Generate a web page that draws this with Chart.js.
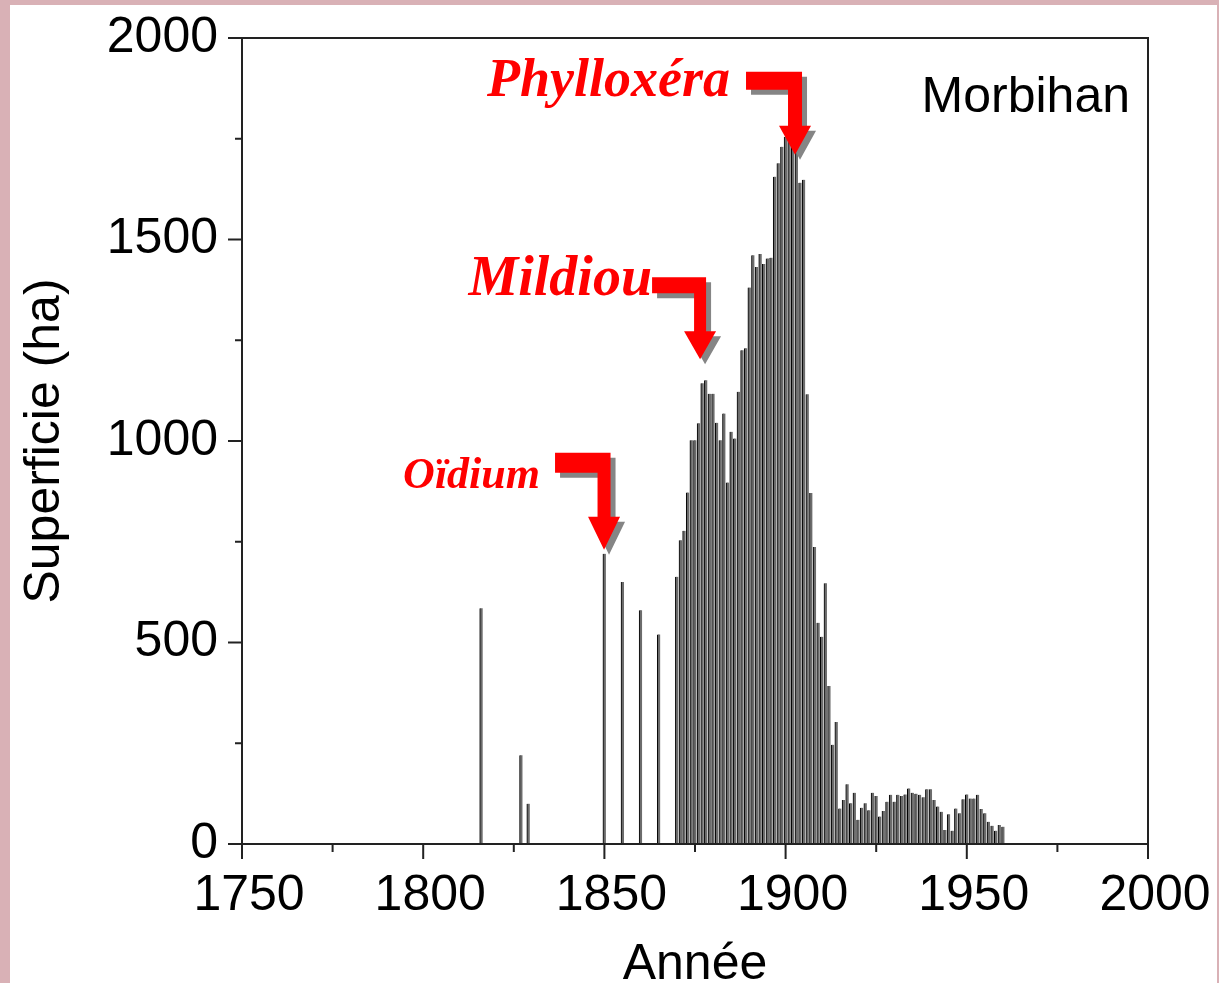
<!DOCTYPE html>
<html>
<head>
<meta charset="utf-8">
<script src="https://cdn.jsdelivr.net/npm/chart.js@4"></script>
<style>
  html, body { margin: 0; padding: 0; background: #d9b1b6; }
  canvas { display: block; }
</style>
</head>
<body>
<canvas id="chart" width="1219" height="983"></canvas>
<script>
// surface plantée en vigne, Morbihan (ha)
const years = [
  1816, 1827, 1829, 1850, 1855, 1860, 1865,
  1870, 1871, 1872, 1873, 1874, 1875, 1876, 1877, 1878, 1879,
  1880, 1881, 1882, 1883, 1884, 1885, 1886, 1887, 1888, 1889,
  1890, 1891, 1892, 1893, 1894, 1895, 1896, 1897, 1898, 1899,
  1900, 1901, 1902, 1903, 1904, 1905, 1906, 1907, 1908, 1909,
  1910, 1911, 1912, 1913, 1914, 1915, 1916, 1917, 1918, 1919,
  1920, 1921, 1922, 1923, 1924, 1925, 1926, 1927, 1928, 1929,
  1930, 1931, 1932, 1933, 1934, 1935, 1936, 1937, 1938, 1939,
  1940, 1941, 1942, 1943, 1944, 1945, 1946, 1947, 1948, 1949,
  1950, 1951, 1952, 1953, 1954, 1955, 1956, 1957, 1958, 1959,
  1960
];
const surfaces = [
  585, 220, 100, 720, 650, 580, 520,
  663, 754, 777, 872, 1002, 1002, 1044, 1143, 1151, 1117,
  1117, 1045, 1002, 1068, 897, 1023, 1006, 1122, 1225, 1230,
  1381, 1461, 1432, 1464, 1439, 1453, 1455, 1656, 1689, 1730,
  1755, 1770, 1775, 1760, 1641, 1648, 1116, 871, 737, 549,
  514, 647, 392, 246, 303, 88, 109, 148, 101, 127,
  60, 90, 101, 84, 127, 119, 68, 82, 105, 122,
  105, 122, 119, 123, 138, 127, 125, 122, 116, 136,
  136, 109, 93, 80, 35, 74, 33, 88, 76, 111,
  123, 113, 113, 122, 87, 76, 55, 45, 33, 47,
  43
];
const region = 'Morbihan';
const notes = ['Phylloxéra', 'Mildiou', 'Oïdium'];
const noteYears = [1902.6, 1876.4, 1849.9];
const noteValues = [1710, 1203, 730];

// arrow shapes, in pixels from the tip
const noteStyles = [
  {left: 49, top: 83, thick: 18, shaft: 7, head: 29, half: 16, size: 54, gap: 16, base: 59},
  {left: 48, top: 82, thick: 16, shaft: 6, head: 28, half: 16, size: 56, gap: 0, base: 64},
  {left: 49, top: 97, thick: 20, shaft: 6.5, head: 33, half: 16, size: 44, gap: 15, base: 62}
];

const sans = 'Liberation Sans, Arial, sans-serif';

function arrowPath(c, tx, ty, g) {
  c.beginPath();
  c.moveTo(tx - g.left, ty - g.top);
  c.lineTo(tx + g.shaft, ty - g.top);
  c.lineTo(tx + g.shaft, ty - g.head);
  c.lineTo(tx + g.half, ty - g.head);
  c.lineTo(tx, ty);
  c.lineTo(tx - g.half, ty - g.head);
  c.lineTo(tx - g.shaft, ty - g.head);
  c.lineTo(tx - g.shaft, ty - g.top + g.thick);
  c.lineTo(tx - g.left, ty - g.top + g.thick);
  c.closePath();
}

const frame = {
  id: 'frame',
  beforeDraw(chart) {
    const c = chart.ctx;
    c.save();
    c.fillStyle = '#d9b1b6';
    c.fillRect(0, 0, chart.width, chart.height);
    c.fillStyle = '#fff';
    c.fillRect(10, 5, chart.width - 12, chart.height - 5);
    c.restore();
  },
  afterDatasetsDraw(chart) {
    const {ctx: c, chartArea: a, scales: {x, y}} = chart;
    c.save();
    c.strokeStyle = '#222';
    c.lineWidth = 2;
    c.strokeRect(a.left, a.top, a.right - a.left, a.bottom - a.top);
    c.beginPath();
    for (let v = x.min; v <= x.max; v += 25) {
      const px = x.getPixelForValue(v);
      c.moveTo(px, a.bottom);
      c.lineTo(px, a.bottom + (v % 50 === 0 ? 15 : 8));
    }
    for (let v = y.min; v <= y.max; v += 250) {
      const py = y.getPixelForValue(v);
      c.moveTo(a.left, py);
      c.lineTo(a.left - (v % 500 === 0 ? 14 : 7), py);
    }
    c.stroke();

    c.fillStyle = '#000';
    c.font = '50px ' + sans;
    c.textAlign = 'right';
    c.textBaseline = 'alphabetic';
    c.fillText(region, a.right - 18, a.top + 74);

    notes.forEach((txt, i) => {
      const g = noteStyles[i];
      const tx = x.getPixelForValue(noteYears[i]);
      const ty = y.getPixelForValue(noteValues[i]);
      c.fillStyle = '#858585';
      arrowPath(c, tx + 5, ty + 5, g);
      c.fill();
      c.fillStyle = '#ff0000';
      arrowPath(c, tx, ty, g);
      c.fill();
      c.font = 'italic bold ' + g.size + 'px Liberation Serif, serif';
      c.textAlign = 'right';
      c.fillText(txt, tx - g.left - g.gap, ty - g.base);
    });
    c.restore();
  }
};

new Chart(document.getElementById('chart'), {
  type: 'bar',
  data: {
    datasets: [{
      data: years.map((yr, i) => ({x: yr, y: surfaces[i]})),
      backgroundColor: '#6c6c6c',
      borderColor: '#000',
      borderWidth: {left: 1, right: 0, top: 0, bottom: 0},
      borderSkipped: false,
      barThickness: 3
    }]
  },
  options: {
    responsive: false,
    animation: false,
    devicePixelRatio: 1,
    layout: {padding: {left: 0, top: 38, right: 71, bottom: 0}},
    plugins: {legend: {display: false}, tooltip: {enabled: false}},
    scales: {
      x: {
        type: 'linear',
        min: 1750,
        max: 2000,
        offset: false,
        grid: {display: false},
        border: {display: false},
        ticks: {stepSize: 50, color: '#000', font: {family: sans, size: 50}, padding: 14, labelOffset: 7,
          maxRotation: 0, autoSkip: false, callback: v => String(v)},
        title: {display: true, text: 'Année', color: '#000', font: {family: sans, size: 50, lineHeight: 0.7}, padding: 0},
        afterFit(s) { s.height = 983 - 844; s.paddingLeft = 0; s.paddingRight = 0; }
      },
      y: {
        min: 0,
        max: 2000,
        grid: {display: false},
        border: {display: false},
        ticks: {stepSize: 500, color: '#000', font: {family: sans, size: 50}, padding: 16,
          callback: v => String(v)},
        title: {display: true, text: 'Superficie (ha)', color: '#000', font: {family: sans, size: 50}, padding: {top: 15, bottom: 0}},
        afterFit(s) { s.width = 242; s.paddingTop = 0; s.paddingBottom = 0; }
      }
    }
  },
  plugins: [frame]
});
</script>
</body>
</html>
